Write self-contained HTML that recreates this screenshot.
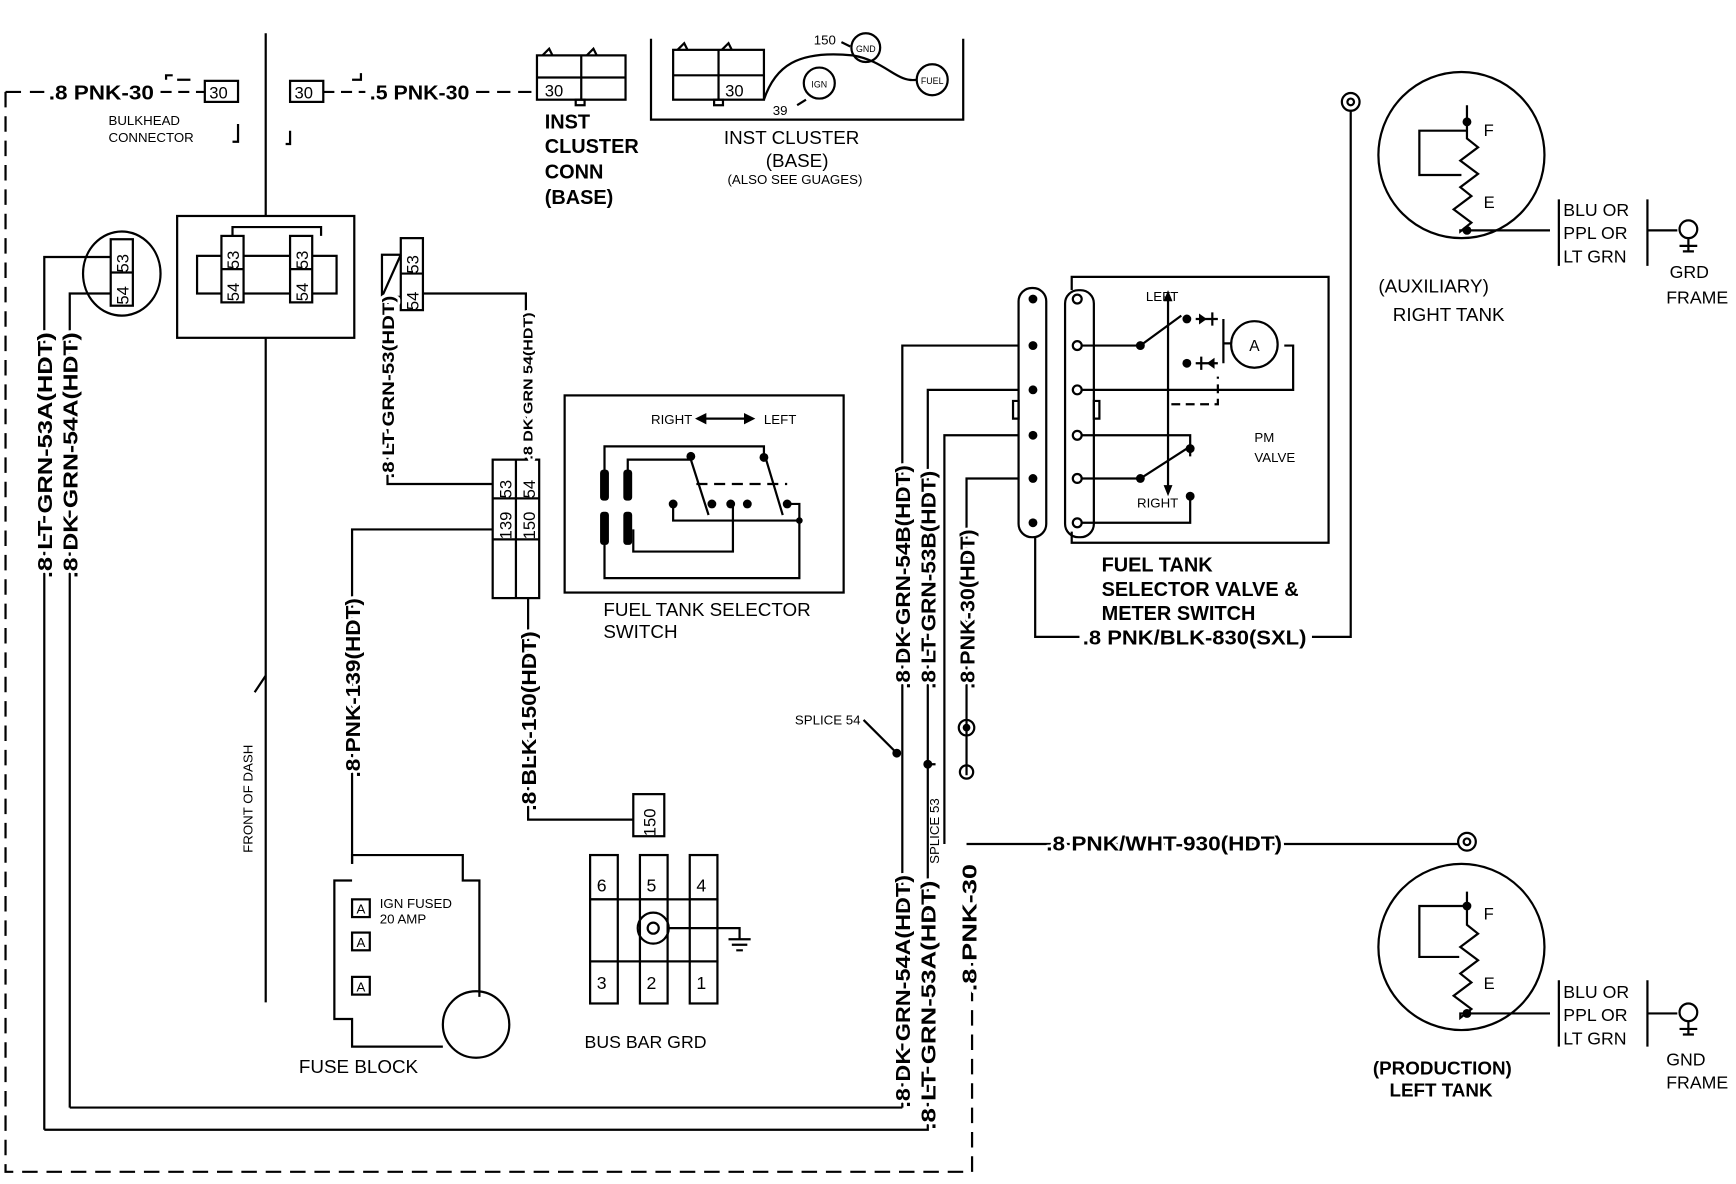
<!DOCTYPE html>
<html><head><meta charset="utf-8"><style>
html,body{margin:0;padding:0;background:#fff}
svg{display:block}
text{font-family:"Liberation Sans",sans-serif;fill:#000}
.b{font-weight:bold;font-size:18px;paint-order:stroke;stroke:#fff;stroke-width:5px;stroke-linejoin:round}
.n{font-size:15px}
.s{font-size:12px}
</style></head><body>
<svg width="1736" height="1184" viewBox="0 0 1568 1069" preserveAspectRatio="none" xmlns="http://www.w3.org/2000/svg">
<g fill="none" stroke="#000" stroke-width="2">
<path d="M5,83 H40 M5,83 V1058 H878 V790" stroke-dasharray="14,8"/>
<path d="M145,83 H185" stroke-dasharray="10,6"/>
<rect x="185" y="73" width="30" height="19"/>
<rect x="262" y="73" width="30" height="19"/>
<path d="M292,83 H330" stroke-dasharray="10,6"/>
<path d="M430,83 H485" stroke-dasharray="12,7"/>
<path d="M150,72 V68 H156 M160,72 H172 M318,72 H326 V66 M215,112 V128 H210 M262,118 V130 H258"/>
<path d="M240,30 V195 M240,305 V905"/>
<path d="M240,610 L230,625"/>
<rect x="485" y="50" width="80" height="40"/>
<path d="M485,70 H565 M525,50 V90 M490,50 l6,-6 l3,6 M530,50 l6,-6 l3,6"/>
<rect x="520" y="90" width="8" height="5"/>
<path d="M588,35 V108 H870 V35"/>
<rect x="608" y="45" width="82" height="45"/>
<path d="M608,68 H690 M649,45 V90 M612,45 l6,-6 l3,6 M652,45 l6,-6 l3,6"/>
<rect x="645" y="90" width="8" height="5"/>
<path d="M690,90 C700,60 720,45 770,50 C800,55 810,75 828,72"/>
<circle cx="740" cy="75" r="14"/><circle cx="782" cy="43" r="13"/><circle cx="842" cy="72" r="14"/>
<path d="M760,38 L768,42 M720,95 L728,90"/>
<rect x="160" y="195" width="160" height="110"/>
<rect x="178" y="231" width="126" height="34"/>
<rect x="200" y="213" width="20" height="60" fill="#fff"/>
<rect x="262" y="213" width="20" height="60" fill="#fff"/>
<path d="M200,243 H220 M262,243 H282 M210,213 V205 H290 V213"/>
<ellipse cx="110" cy="247" rx="35" ry="38"/>
<rect x="100" y="216" width="20" height="60" fill="#fff"/>
<path d="M100,246 H120"/>
<path d="M40,1020 V232 H100 M63,1000 V265 H100"/>
<path d="M63,1000 H815 M40,1020 H838 V800"/>
<rect x="362" y="215" width="20" height="65"/>
<path d="M362,247 H382 M362,230 H345 V268 H362 M345,268 L362,230"/>
<path d="M350,268 V437 H445 M382,265 H475 V415"/>
<rect x="445" y="415" width="42" height="125"/>
<path d="M466,415 V540 M445,450 H487 M445,487 H487"/>
<path d="M445,478 H318 V780 M477,540 V740 H572"/>
<rect x="572" y="717" width="28" height="38"/>
<rect x="510" y="357" width="252" height="178"/>
<path d="M630,378 H680"/>
<path d="M630,378 l7,-3.5 v7 z M680,378 l-7,-3.5 v7 z" fill="#000"/>
<path d="M546,448 V403 H690 V413 M567,448 V415 H624 M692,415 L707,465 M624,415 L640,465"/>
<path d="M629,437 H711" stroke-dasharray="10,6"/>
<path d="M608,455 V470 H722 M662,455 V498 H572 V478 M546,478 V522 H722 V455 H711"/>
<g fill="#000" stroke="none">
<rect x="542" y="424" width="8" height="28" rx="3"/><rect x="563" y="424" width="8" height="28" rx="3"/>
<rect x="542" y="462" width="8" height="30" rx="3"/><rect x="563" y="462" width="8" height="30" rx="3"/>
<circle cx="624" cy="412" r="4"/><circle cx="690" cy="413" r="4"/><circle cx="608" cy="455" r="4"/>
<circle cx="643" cy="455" r="4"/><circle cx="660" cy="455" r="4"/><circle cx="675" cy="455" r="4"/>
<circle cx="711" cy="455" r="4"/><circle cx="722" cy="470" r="3"/>
</g>
<path d="M318,780 V772 H418 V795 H433 V900 M400,945 H318 V920 H302 V795 H318"/>
<circle cx="430" cy="925" r="30"/>
<rect x="318" y="812" width="16" height="16"/><rect x="318" y="842" width="16" height="16"/><rect x="318" y="882" width="16" height="16"/>
<rect x="533" y="772" width="25" height="40"/><rect x="578" y="772" width="25" height="40"/><rect x="623" y="772" width="25" height="40"/>
<rect x="533" y="868" width="25" height="38"/><rect x="578" y="868" width="25" height="38"/><rect x="623" y="868" width="25" height="38"/>
<rect x="533" y="812" width="115" height="56" fill="#fff"/>
<path d="M558,812 V868 M578,812 V868 M603,812 V868 M623,812 V868"/>
<circle cx="590" cy="838" r="14"/><circle cx="590" cy="838" r="5"/>
<path d="M604,838 H668 V848 M658,848 H678 M661,853 H675 M665,858 H671"/>
<path d="M815,1000 V312 H920 M838,800 V352 H920 M853,762 V393 H920 M873,700 V432 H920"/>
<path d="M873,762 H1318"/>
<circle cx="873" cy="657" r="7"/><circle cx="873" cy="657" r="2.5" fill="#000"/>
<circle cx="873" cy="697" r="6"/>
<circle cx="1325" cy="760" r="8"/><circle cx="1325" cy="760" r="3"/>
<path d="M780,650 L810,680 M845,690 L838,690"/>
<rect x="920" y="260" width="25" height="225" rx="12"/>
<rect x="962" y="262" width="26" height="223" rx="12"/>
<path d="M915,362 H920 V378 H915 Z M988,362 H993 V378 H988 Z"/>
<path d="M935,485 V575 H975 M1185,575 H1220 V100"/>
<circle cx="1220" cy="92" r="8"/><circle cx="1220" cy="92" r="3"/>
<path d="M968,262 V250 H1200 V490 H968 V480"/>
<path d="M975,312 H1030 L1067,285 M975,352 H1168 V312 H1160 M975,393 H1075 V412 M975,432 H1030 L1072,405 M975,472 H1075 V448"/>
<path d="M1055,270 V440"/>
<path d="M1058,365 H1100 V340" stroke-dasharray="8,5"/>
<path d="M1080,288 H1100 M1095,282 V294 M1080,328 H1100 M1085,322 V334 M1105,288 V328 M1105,310 H1112"/>
<circle cx="1133" cy="311" r="21"/>
<g fill="#000" stroke="none">
<circle cx="933" cy="270" r="4"/><circle cx="933" cy="312" r="4"/><circle cx="933" cy="352" r="4"/><circle cx="933" cy="393" r="4"/><circle cx="933" cy="432" r="4"/><circle cx="933" cy="472" r="4"/>
<circle cx="1030" cy="312" r="4"/><circle cx="1030" cy="432" r="4"/><circle cx="1072" cy="288" r="4"/><circle cx="1072" cy="328" r="4"/>
<circle cx="1075" cy="405" r="4"/><circle cx="1075" cy="448" r="4"/>
<path d="M1055,262 l-4,10 h8 z M1055,448 l-4,-10 h8 z M1090,288 l-7,-5 v10 z M1090,328 l7,-5 v10 z"/>
<circle cx="810" cy="680" r="4"/><circle cx="838" cy="690" r="4"/>
</g>
<g fill="#fff"><circle cx="973" cy="270" r="4"/><circle cx="973" cy="312" r="4"/><circle cx="973" cy="352" r="4"/><circle cx="973" cy="393" r="4"/><circle cx="973" cy="432" r="4"/><circle cx="973" cy="472" r="4"/></g>
<circle cx="1320" cy="140" r="75"/>
<path d="M1325,95 V125 l10,8 l-16,12 l16,12 l-16,12 l10,8 l-16,12 l16,12 l-10,8 V208 H1400 M1325,118 H1282 V158 H1320"/>
<path d="M1408,180 V240 M1488,180 V240 M1488,208 H1515"/>
<circle cx="1525" cy="207" r="8"/><path d="M1525,215 V228 M1517,222 H1533 M1520,227 H1530"/>
<circle cx="1320" cy="855" r="75"/>
<path d="M1325,805 V835 l10,8 l-16,12 l16,12 l-16,12 l10,8 l-16,12 l16,12 l-10,8 V915 H1400 M1325,818 H1282 V864 H1318"/>
<path d="M1408,885 V945 M1488,885 V945 M1488,915 H1515"/>
<circle cx="1525" cy="914" r="8"/><path d="M1525,922 V935 M1517,929 H1533 M1520,934 H1530"/>
<g fill="#000" stroke="none"><circle cx="1325" cy="110" r="4"/><circle cx="1325" cy="208" r="4"/><circle cx="1325" cy="818" r="4"/><circle cx="1325" cy="915" r="4"/></g>
</g>

<text class="b" x="44" y="90" textLength="95" lengthAdjust="spacingAndGlyphs">.8 PNK-30</text>
<text class="n" x="189" y="89">30</text>
<text class="n" x="266" y="89">30</text>
<text class="b" x="334" y="90" textLength="90" lengthAdjust="spacingAndGlyphs">.5 PNK-30</text>
<text class="s" x="98" y="113">BULKHEAD</text>
<text class="s" x="98" y="128">CONNECTOR</text>
<text class="n" x="492" y="87">30</text>
<text class="n" x="655" y="87">30</text>
<text class="b" x="492" y="116">INST</text>
<text class="b" x="492" y="138">CLUSTER</text>
<text class="b" x="492" y="161">CONN</text>
<text class="b" x="492" y="184">(BASE)</text>
<text class="n" x="715" y="130" text-anchor="middle" style="font-size:17px">INST CLUSTER</text>
<text class="n" x="720" y="151" text-anchor="middle" style="font-size:17px">(BASE)</text>
<text class="s" x="718" y="166" text-anchor="middle">(ALSO SEE GUAGES)</text>
<text x="740" y="79" text-anchor="middle" style="font-size:8px">IGN</text>
<text x="782" y="47" text-anchor="middle" style="font-size:8px">GND</text>
<text x="842" y="76" text-anchor="middle" style="font-size:8px">FUEL</text>
<text class="s" x="735" y="40">150</text>
<text class="s" x="698" y="104">39</text>
<g class="n" style="font-size:15px">
<text transform="translate(116,246) rotate(-90)">53</text>
<text transform="translate(116,275) rotate(-90)">54</text>
<text transform="translate(216,272) rotate(-90)">54</text>
<text transform="translate(216,243) rotate(-90)">53</text>
<text transform="translate(278,272) rotate(-90)">54</text>
<text transform="translate(278,243) rotate(-90)">53</text>
<text transform="translate(378,247) rotate(-90)">53</text>
<text transform="translate(378,280) rotate(-90)">54</text>
<text transform="translate(462,450) rotate(-90)">53</text>
<text transform="translate(483,450) rotate(-90)">54</text>
<text transform="translate(462,487) rotate(-90)">139</text>
<text transform="translate(483,487) rotate(-90)">150</text>
<text transform="translate(592,755) rotate(-90)">150</text>
</g>
<g class="b" >
<text transform="translate(47,522) rotate(-90)" textLength="222" lengthAdjust="spacingAndGlyphs">.8 LT GRN-53A(HDT)</text>
<text transform="translate(70,522) rotate(-90)" textLength="222" lengthAdjust="spacingAndGlyphs">.8 DK GRN-54A(HDT)</text>
<text transform="translate(356,432) rotate(-90)" style="font-size:15px" textLength="165" lengthAdjust="spacingAndGlyphs">.8 LT GRN-53(HDT)</text>
<text transform="translate(481,415) rotate(-90)" style="font-size:12px" textLength="133" lengthAdjust="spacingAndGlyphs">.8 DK GRN 54(HDT)</text>
<text transform="translate(325,702) rotate(-90)" textLength="162" lengthAdjust="spacingAndGlyphs">.8 PNK-139(HDT)</text>
<text transform="translate(484,732) rotate(-90)" textLength="162" lengthAdjust="spacingAndGlyphs">.8 BLK-150(HDT)</text>
<text transform="translate(822,622) rotate(-90)" textLength="202" lengthAdjust="spacingAndGlyphs">.8 DK GRN-54B(HDT)</text>
<text transform="translate(845,622) rotate(-90)" textLength="197" lengthAdjust="spacingAndGlyphs">.8 LT GRN-53B(HDT)</text>
<text transform="translate(880,622) rotate(-90)" textLength="144" lengthAdjust="spacingAndGlyphs">.8 PNK-30(HDT)</text>
<text transform="translate(822,1000) rotate(-90)" textLength="210" lengthAdjust="spacingAndGlyphs">.8 DK GRN-54A(HDT)</text>
<text transform="translate(845,1020) rotate(-90)" textLength="225" lengthAdjust="spacingAndGlyphs">.8 LT GRN-53A(HDT)</text>
<text transform="translate(882,895) rotate(-90)" textLength="115" lengthAdjust="spacingAndGlyphs">.8 PNK-30</text>
<text x="978" y="582" textLength="202" lengthAdjust="spacingAndGlyphs">.8 PNK/BLK-830(SXL)</text>
<text x="945" y="768" textLength="213" lengthAdjust="spacingAndGlyphs">.8 PNK/WHT-930(HDT)</text>
<text x="995" y="516">FUEL TANK</text>
<text x="995" y="538">SELECTOR VALVE &amp;</text>
<text x="995" y="560">METER SWITCH</text>
<text x="1240" y="970" style="font-size:17px">(PRODUCTION)</text>
<text x="1255" y="990" style="font-size:17px">LEFT TANK</text>
</g>
<text transform="translate(228,770) rotate(-90)" class="s">FRONT OF DASH</text>
<text transform="translate(848,780) rotate(-90)" class="s">SPLICE 53</text>
<text class="s" x="718" y="654">SPLICE 54</text>
<text class="s" x="588" y="383">RIGHT</text>
<text class="s" x="690" y="383">LEFT</text>
<text class="n" x="545" y="556" style="font-size:17px">FUEL TANK SELECTOR</text>
<text class="n" x="545" y="576" style="font-size:17px">SWITCH</text>
<text class="s" x="343" y="820">IGN FUSED</text>
<text class="s" x="343" y="834">20 AMP</text>
<text class="s" x="322" y="825">A</text><text class="s" x="322" y="855">A</text><text class="s" x="322" y="895">A</text>
<text class="n" x="270" y="969" style="font-size:17px">FUSE BLOCK</text>
<text class="n" x="528" y="946" style="font-size:16px">BUS BAR GRD</text>
<g class="n" style="font-size:16px">
<text x="539" y="805">6</text><text x="584" y="805">5</text><text x="629" y="805">4</text>
<text x="539" y="893">3</text><text x="584" y="893">2</text><text x="629" y="893">1</text>
</g>
<text class="s" x="1035" y="272">LEFT</text>
<text class="s" x="1027" y="458">RIGHT</text>
<text class="s" x="1133" y="399">PM</text>
<text class="s" x="1133" y="417">VALVE</text>
<text x="1133" y="317" text-anchor="middle" style="font-size:14px">A</text>
<text class="n" x="1340" y="123">F</text>
<text class="n" x="1340" y="188">E</text>
<text class="n" x="1340" y="830">F</text>
<text class="n" x="1340" y="893">E</text>
<g class="n" style="font-size:16px">
<text x="1412" y="195">BLU OR</text><text x="1412" y="216">PPL OR</text><text x="1412" y="237">LT GRN</text>
<text x="1412" y="901">BLU OR</text><text x="1412" y="922">PPL OR</text><text x="1412" y="943">LT GRN</text>
<text x="1245" y="264" style="font-size:17px">(AUXILIARY)</text>
<text x="1258" y="290" style="font-size:17px">RIGHT  TANK</text>
<text x="1508" y="251">GRD</text><text x="1505" y="274">FRAME</text>
<text x="1505" y="962">GND</text><text x="1505" y="983">FRAME</text>
</g>
</svg>
</body></html>
